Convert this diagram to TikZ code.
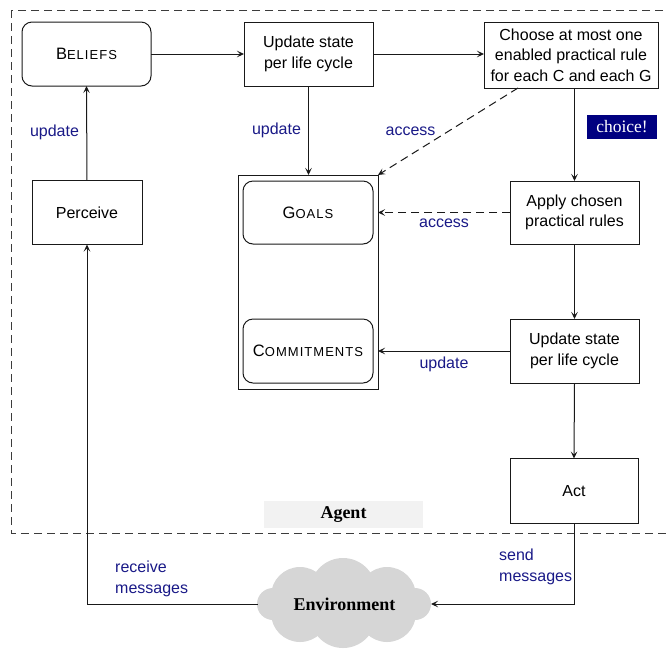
\documentclass[tikz,border=0pt]{standalone}
\usepackage{fontspec}
\setmainfont{Liberation Sans}
\newfontfamily\serifbf{Liberation Serif}
\usetikzlibrary{arrows.meta}
\definecolor{lblue}{RGB}{25,25,135}
\definecolor{navybg}{RGB}{0,0,128}
\definecolor{agentbg}{RGB}{242,242,242}
\definecolor{cloudgray}{RGB}{214,214,214}
\definecolor{dashgray}{RGB}{60,60,60}
\definecolor{edge}{RGB}{25,25,25}
\newcommand\mysc[2]{{\fontsize{16.5}{20}\selectfont #1}{\fontsize{13}{14}\selectfont\addfontfeature{LetterSpace=8}#2}}
\tikzset{
  txt/.style={font=\fontsize{16}{20.5}\selectfont},
  plainbox/.style={draw=edge, line width=1pt, inner sep=0pt, outer sep=0pt, align=center, txt},
  roundbox/.style={plainbox, rounded corners=10pt},
  lbl/.style={txt, text=lblue, inner sep=0pt, align=left},
  arr/.style={draw=edge, line width=1pt, -{Stealth[length=7pt,width=6.5pt,inset=3pt]}},
  dashedarr/.style={arr, dash pattern=on 8pt off 5pt},
}
\begin{document}
\begin{tikzpicture}[x=1pt,y=-1pt]
\useasboundingbox (0,0) rectangle (666,649);
% agent boundary
\draw[dashgray, line width=1pt, dash pattern=on 8pt off 5pt] (11,10) rectangle (672,533);
% nodes
\node[roundbox, minimum width=129, minimum height=64] (beliefs) at (86.5,54) {\mysc{B}{ELIEFS}};
\node[plainbox, minimum width=129, minimum height=64] (upd1) at (308.5,54) {Update state\\per life cycle};
\node[plainbox, minimum width=174, minimum height=66] (choose) at (571,55) {Choose at most one\\enabled practical rule\\for each C and each G};
\node[plainbox, minimum width=110, minimum height=64] (perceive) at (87,212.5) {Perceive};
\node[plainbox, minimum width=140, minimum height=214] (store) at (308,282) {};
\node[roundbox, minimum width=130, minimum height=63] (goals) at (308,212.5) {\mysc{G}{OALS}};
\node[roundbox, minimum width=130, minimum height=64] (commit) at (308,351) {\mysc{C}{OMMITMENTS}};
\node[plainbox, minimum width=129, minimum height=63] (apply) at (574.5,212.5) {Apply chosen\\practical rules};
\node[plainbox, minimum width=129, minimum height=64] (upd2) at (574.5,351) {Update state\\per life cycle};
\node[plainbox, minimum width=128, minimum height=65] (act) at (574,491) {Act};
% agent label
\node[fill=agentbg, minimum width=159, minimum height=27, inner sep=0pt, font=\serifbf\bfseries\fontsize{18}{20}\selectfont] (agent) at (343.5,514.5) {Agent};
% cloud
\begin{scope}[fill=cloudgray]
\fill (343,591) circle (33);
\fill (300,596) circle (29);
\fill (387,596) circle (29);
\fill (343,615) circle (33);
\fill (300,613) circle (29);
\fill (387,613) circle (29);
\fill (273,604) circle (16);
\fill (415,604) circle (16);
\end{scope}
\node[minimum width=173, minimum height=20, inner sep=0pt, outer sep=0pt, font=\serifbf\bfseries\fontsize{18}{20}\selectfont] (env) at (344.5,604) {Environment};
% choice label
\node[fill=navybg, text=white, minimum width=70, minimum height=24, inner sep=0pt, font=\serifbf\fontsize{17.5}{20}\selectfont] (choice) at (622,127) {choice!};
% connectors
\draw[arr] (beliefs.east) -- (upd1.west);
\draw[arr] (upd1.east) -- (upd1.east -| choose.west);
\draw[arr] (upd1.south) -- (upd1.south |- store.north);
\draw[dashedarr] ([xshift=34pt]choose.south west) -- (store.north east);
\draw[arr] (choose.south -| apply.north) -- (apply.north);
\draw[dashedarr] (apply.west) -- (apply.west -| store.east);
\draw[arr] (apply.south) -- (upd2.north);
\draw[arr] (upd2.west) -- (upd2.west -| store.east);
\draw[arr] (upd2.south) -- (act.north);
\draw[arr] (act.south) |- (env.east);
\draw[arr] (env.west) -| (perceive.south);
\draw[arr] (perceive.north) -- (beliefs.south);
% labels
\node[lbl] (l1) at (54.5,132) {update};
\node[lbl] (l2) at (276.5,130) {update};
\node[lbl] (l3) at (410.5,131) {access};
\node[lbl] (l4) at (444,223) {access};
\node[lbl] (l5) at (444,364) {update};
\node[lbl, anchor=west] (l6) at (115,579) {receive\\messages};
\node[lbl, anchor=west] (l7) at (499,567) {send\\messages};
\end{tikzpicture}
\end{document}
